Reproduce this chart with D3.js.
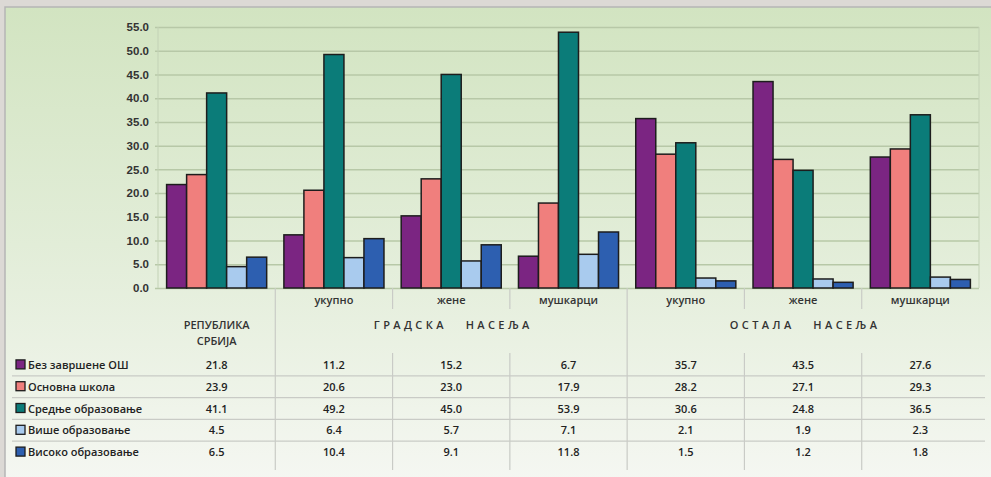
<!DOCTYPE html>
<html>
<head>
<meta charset="utf-8">
<script src="https://cdn.jsdelivr.net/npm/d3@7"></script>
<style>
  html, body { margin: 0; padding: 0; background: #dcd9d5; }
  svg { display: block; font-family: "Open Sans", "Noto Sans", sans-serif; }
</style>
</head>
<body>
<svg id="chart" width="991" height="477"></svg>
<script>
// categories (columns of the table)
const categories = ['РЕПУБЛИКА СРБИЈА', 'укупно', 'жене', 'мушкарци', 'укупно', 'жене', 'мушкарци'];
// super-groups over the columns
const groups = [
    { name: 'ГРАДСКА НАСЕЉА', from: 1, to: 3 },
    { name: 'ОСТАЛА НАСЕЉА', from: 4, to: 6 }
];
// series
const seriesNames = ['Без завршене ОШ', 'Основна школа', 'Средње образовање', 'Више образовање', 'Високо образовање'];
const seriesColors = ['#7b2582', '#f07f7d', '#0b7c79', '#a9cbee', '#2d5fb0'];
const bezOS    = [21.8, 11.2, 15.2, 6.7, 35.7, 43.5, 27.6];
const osnovna  = [23.9, 20.6, 23.0, 17.9, 28.2, 27.1, 29.3];
const srednje  = [41.1, 49.2, 45.0, 53.9, 30.6, 24.8, 36.5];
const vise     = [4.5, 6.4, 5.7, 7.1, 2.1, 1.9, 2.3];
const visoko   = [6.5, 10.4, 9.1, 11.8, 1.5, 1.2, 1.8];
const values = [bezOS, osnovna, srednje, vise, visoko];
const yTicks = [0, 5, 10, 15, 20, 25, 30, 35, 40, 45, 50, 55];

const svg = d3.select('#chart');

// --- fond ---
const defs = svg.append('defs');
const grad = defs.append('linearGradient')
    .attr('id', 'bg')
    .attr('x1', 0).attr('y1', 0).attr('x2', 0).attr('y2', 1);
grad.append('stop').attr('offset', '0%').attr('stop-color', '#d2e4c1');
grad.append('stop').attr('offset', '50%').attr('stop-color', '#e2edd8');
grad.append('stop').attr('offset', '100%').attr('stop-color', '#f5f7f2');

svg.append('rect')
    .attr('x', 5).attr('y', 7)
    .attr('width', 990).attr('height', 475)
    .attr('fill', 'url(#bg)')
    .attr('stroke', '#b5b5b5')
    .attr('stroke-width', 1.5);

// --- échelles ---
const x = d3.scaleBand()
    .domain(d3.range(categories.length))
    .range([158, 979])
    .padding(0);

const xInner = d3.scaleBand()
    .domain(d3.range(seriesNames.length))
    .range([0, x.bandwidth()])
    .paddingInner(0)
    .paddingOuter(0.43);

const y = d3.scaleLinear()
    .domain([0, 55])
    .range([288, 27]);

// --- grille + axe ---
const yAxis = d3.axisLeft(y)
    .tickValues(yTicks)
    .tickFormat(d3.format('.1f'))
    .tickSize(-(979 - 155))
    .tickPadding(6);

const gAxis = svg.append('g')
    .attr('transform', 'translate(155,0)')
    .call(yAxis);
gAxis.select('.domain').remove();
gAxis.selectAll('.tick line')
    .attr('stroke', '#b7c8a7')
    .attr('stroke-width', 1.5);
gAxis.selectAll('.tick text')
    .attr('fill', '#333')
    .style('font-size', '11.5px')
    .style('font-weight', 600);

svg.append('line')
    .attr('x1', 158).attr('x2', 158)
    .attr('y1', 27).attr('y2', 288)
    .attr('stroke', '#c3d2b6').attr('stroke-width', 1);
svg.append('line')
    .attr('x1', 979).attr('x2', 979)
    .attr('y1', 27).attr('y2', 288)
    .attr('stroke', '#c3d2b6').attr('stroke-width', 1);

// --- barres ---
const barData = [];
values.forEach((arr, s) => {
    arr.forEach((v, c) => barData.push({ s, c, v }));
});

svg.append('g')
    .selectAll('rect')
    .data(barData)
    .enter()
    .append('rect')
    .attr('x', d => x(d.c) + xInner(d.s))
    .attr('y', d => y(d.v))
    .attr('width', xInner.bandwidth())
    .attr('height', d => y(0) - y(d.v))
    .attr('fill', d => seriesColors[d.s])
    .attr('stroke', '#1d1d1d')
    .attr('stroke-width', 1.5);

// --- tableau ---
const rowY = d3.scaleBand()
    .domain(d3.range(seriesNames.length))
    .range([354, 463]);

const table = svg.append('g');

// séparateurs horizontaux
d3.range(1, seriesNames.length).forEach(i => {
    table.append('line')
        .attr('x1', 12).attr('x2', 985)
        .attr('y1', rowY(i)).attr('y2', rowY(i))
        .attr('stroke', '#c9cbc6').attr('stroke-width', 1.2);
});

// séparateurs verticaux
d3.range(1, categories.length).forEach(c => {
    const xx = x(c);
    const full = groups.some(g => g.from === c) || c === 1;
    if (full) {
        table.append('line')
            .attr('x1', xx).attr('x2', xx)
            .attr('y1', 288).attr('y2', 470)
            .attr('stroke', '#c9cbc6').attr('stroke-width', 1.2);
    } else {
        table.append('line')
            .attr('x1', xx).attr('x2', xx)
            .attr('y1', 288).attr('y2', 309)
            .attr('stroke', '#c9cbc6').attr('stroke-width', 1.2);
        table.append('line')
            .attr('x1', xx).attr('x2', xx)
            .attr('y1', 353).attr('y2', 470)
            .attr('stroke', '#c9cbc6').attr('stroke-width', 1.2);
    }
});

// libellés des colonnes
categories.forEach((cat, c) => {
    const cx = x(c) + x.bandwidth() / 2;
    if (c === 0) {
        const t = table.append('text')
            .attr('x', cx).attr('y', 329)
            .attr('text-anchor', 'middle')
            .attr('fill', '#333')
            .style('font-size', '11px')
            .style('font-weight', 600);
        const parts = cat.split(' ');
        t.append('tspan').attr('x', cx).attr('dy', 0).text(parts[0]);
        t.append('tspan').attr('x', cx).attr('dy', 16).text(parts[1]);
    } else {
        table.append('text')
            .attr('x', cx).attr('y', 304)
            .attr('text-anchor', 'middle')
            .attr('fill', '#333')
            .style('font-size', '11px')
            .style('font-weight', 600)
            .text(cat);
    }
});

// libellés des groupes
groups.forEach(g => {
    const cx = (x(g.from) + x(g.to) + x.bandwidth()) / 2;
    table.append('text')
        .attr('x', cx + 2).attr('y', 329)
        .attr('text-anchor', 'middle')
        .attr('fill', '#333')
        .style('font-size', '11px')
        .style('font-weight', 600)
        .style('letter-spacing', '3.4px')
        .style('white-space', 'pre')
        .text(g.name.replace(' ', '   '));
});

// légende + valeurs
seriesNames.forEach((name, s) => {
    const cy = rowY(s) + rowY.bandwidth() / 2;
    table.append('rect')
        .attr('x', 16).attr('y', cy - 5)
        .attr('width', 9).attr('height', 9)
        .attr('fill', seriesColors[s])
        .attr('stroke', '#1d1d1d')
        .attr('stroke-width', 1.3);
    table.append('text')
        .attr('x', 28).attr('y', cy + 4)
        .attr('fill', '#222')
        .style('font-size', '11px')
        .style('font-weight', 600)
        .text(name);

    values[s].forEach((v, c) => {
        table.append('text')
            .attr('x', x(c) + x.bandwidth() / 2)
            .attr('y', cy + 4)
            .attr('text-anchor', 'middle')
            .attr('fill', '#222')
            .style('font-size', '11px')
            .style('font-weight', 600)
            .text(d3.format('.1f')(v));
    });
});
</script>
</body>
</html>
